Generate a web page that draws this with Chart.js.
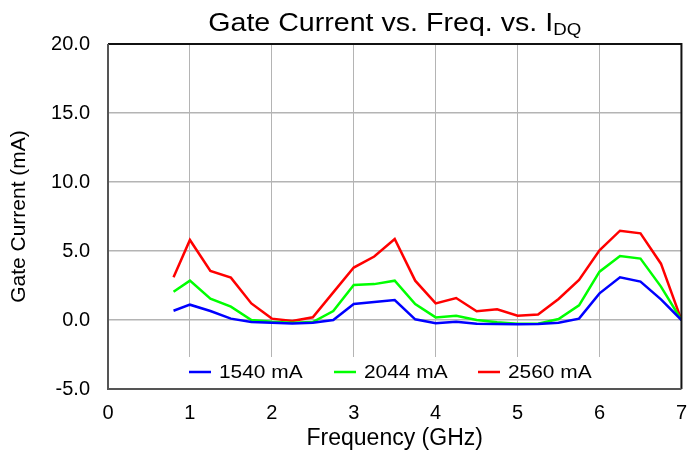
<!DOCTYPE html>
<html>
<head>
<meta charset="utf-8">
<script src="https://cdn.jsdelivr.net/npm/chart.js@4"></script>
<style>
  html, body { margin: 0; padding: 0; background: #fff; }
  #wrap { width: 699px; height: 457px; }
</style>
</head>
<body>
<div id="wrap"><canvas id="myChart"></canvas></div>
<script>
'use strict';

//--------------------DATA
let freqGHz = [0.8, 1.0, 1.25, 1.5, 1.75, 2.0, 2.25, 2.5, 2.75, 3.0, 3.25, 3.5, 3.75,
  4.0, 4.25, 4.5, 4.75, 5.0, 5.25, 5.5, 5.75, 6.0, 6.25, 6.5, 6.75, 7.0];

let current1540 = [0.67, 1.11, 0.65, 0.10, -0.15, -0.20, -0.25, -0.20, 0.00, 1.16, 1.30, 1.45, 0.05,
  -0.24, -0.12, -0.27, -0.29, -0.31, -0.29, -0.20, 0.10, 1.93, 3.09, 2.78, 1.50, 0.00];

let current2044 = [2.05, 2.85, 1.55, 0.97, 0.00, -0.12, -0.20, -0.15, 0.65, 2.53, 2.60, 2.85, 1.16,
  0.19, 0.31, 0.00, -0.17, -0.27, -0.27, 0.07, 1.06, 3.50, 4.64, 4.45, 2.42, 0.00];

let current2560 = [3.09, 5.80, 3.55, 3.07, 1.20, 0.10, -0.07, 0.20, 2.00, 3.80, 4.60, 5.87, 2.85,
  1.20, 1.59, 0.63, 0.77, 0.31, 0.39, 1.52, 2.90, 5.05, 6.47, 6.28, 4.08, 0.00];

let seriesNames = ['1540 mA', '2044 mA', '2560 mA'];
let seriesColors = ['#0000ff', '#00ff00', '#ff0000'];

let xTicks = [0, 1, 2, 3, 4, 5, 6, 7];
let yTicks = [-5, 0, 5, 10, 15, 20];

const FONT = '"Liberation Sans", Arial, sans-serif';
const STRETCH = 1.1; // text is drawn a little wide

//--------------------HELPERS
function toPoints(values) {
  let pts = [];
  for (let i = 0; i < freqGHz.length; i++) {
    pts.push({ x: freqGHz[i], y: values[i] });
  }
  return pts;
}

// title with the DQ subscript
let titlePlugin = {
  id: 'subTitle',
  afterDraw(chart) {
    let ctx = chart.ctx;
    let area = chart.chartArea;
    let main = 'Gate Current vs. Freq. vs. I';
    let sub = 'DQ';
    ctx.save();
    ctx.fillStyle = '#000';
    ctx.textBaseline = 'alphabetic';
    ctx.font = '26px ' + FONT;
    let w1 = ctx.measureText(main).width;
    ctx.font = '17px ' + FONT;
    let w2 = ctx.measureText(sub).width;
    let cx = (area.left + area.right) / 2;
    ctx.translate(cx, 0);
    ctx.scale(STRETCH, 1);
    let x = -(w1 + w2) / 2;
    ctx.font = '26px ' + FONT;
    ctx.fillText(main, x, 31);
    ctx.font = '17px ' + FONT;
    ctx.fillText(sub, x + w1, 35);
    ctx.restore();
  }
};

// legend sits inside the plot, along the bottom edge
let insideLegend = {
  id: 'insideLegend',
  afterDatasetsDraw(chart) {
    let ctx = chart.ctx;
    let area = chart.chartArea;
    let lineX = [189, 334, 478];
    ctx.save();
    ctx.fillStyle = '#fff';
    ctx.fillRect(area.left + 1, 357, area.right - area.left - 2, area.bottom - 357);
    ctx.textBaseline = 'middle';
    ctx.textAlign = 'left';
    for (let i = 0; i < seriesNames.length; i++) {
      ctx.strokeStyle = seriesColors[i];
      ctx.lineWidth = 2.5;
      ctx.beginPath();
      ctx.moveTo(lineX[i], 372);
      ctx.lineTo(lineX[i] + 22, 372);
      ctx.stroke();
      ctx.save();
      ctx.translate(lineX[i] + 30, 373);
      ctx.scale(STRETCH, 1);
      ctx.font = '19px ' + FONT;
      ctx.fillStyle = '#000';
      ctx.fillText(seriesNames[i], 0, 0);
      ctx.restore();
    }
    ctx.restore();
  }
};

// plot frame
let framePlugin = {
  id: 'frame',
  afterDraw(chart) {
    let ctx = chart.ctx;
    let a = chart.chartArea;
    ctx.save();
    ctx.lineWidth = 2;
    ctx.strokeStyle = '#111';
    ctx.beginPath();
    ctx.moveTo(a.left, a.top);
    ctx.lineTo(a.right, a.top);
    ctx.lineTo(a.right, a.bottom);
    ctx.stroke();
    ctx.strokeStyle = '#555';
    ctx.beginPath();
    ctx.moveTo(a.right, a.bottom);
    ctx.lineTo(a.left, a.bottom);
    ctx.lineTo(a.left, a.top);
    ctx.stroke();
    ctx.restore();
  }
};

//--------------------CHART
let datasets = [current1540, current2044, current2560].map(function (vals, i) {
  return {
    label: seriesNames[i],
    data: toPoints(vals),
    borderColor: seriesColors[i],
    backgroundColor: seriesColors[i],
    borderWidth: 2.5,
    pointRadius: 0,
    showLine: true,
    tension: 0,
  };
});

let canvasElem = document.getElementById('myChart');

new Chart(canvasElem, {
  type: 'scatter',
  data: { datasets: datasets },
  options: {
    responsive: true,
    maintainAspectRatio: false,
    animation: false,
    layout: { padding: { top: 44, right: 17, bottom: 0, left: 0 } },
    plugins: {
      legend: { display: false },
      title: { display: false },
      tooltip: { enabled: false },
    },
    scales: {
      x: {
        type: 'linear',
        min: 0,
        max: 7,
        afterBuildTicks: function (scale) {
          scale.ticks = xTicks.map(function (v) { return { value: v }; });
        },
        afterFit: function (scale) { scale.height = 68; },
        grid: { color: '#b4b4b4', lineWidth: 1, drawTicks: false },
        border: { display: false },
        ticks: {
          color: '#000',
          padding: 12,
          maxRotation: 0,
          font: { family: FONT, size: 20 },
          callback: function (v) { return String(v); },
        },
        title: {
          display: true,
          text: 'Frequency (GHz)',
          color: '#000',
          font: { family: FONT, size: 23 },
          padding: { top: 0, bottom: 5 },
        },
      },
      y: {
        min: -5,
        max: 20,
        afterBuildTicks: function (scale) {
          scale.ticks = yTicks.map(function (v) { return { value: v }; });
        },
        afterFit: function (scale) { scale.width = 108; },
        grid: {
          color: function (c) { return c.tick && c.tick.value === -5 ? 'rgba(0,0,0,0)' : '#b4b4b4'; },
          lineWidth: 1.5,
          drawTicks: false,
        },
        border: { display: false },
        ticks: {
          color: '#000',
          padding: 18,
          font: { family: FONT, size: 20 },
          callback: function (v) { return v.toFixed(1); },
        },
        title: {
          display: true,
          text: 'Gate Current (mA)',
          color: '#000',
          font: { family: FONT, size: 21 },
          padding: { top: 7, bottom: 0 },
        },
      },
    },
  },
  plugins: [insideLegend, framePlugin, titlePlugin],
});
</script>
</body>
</html>
